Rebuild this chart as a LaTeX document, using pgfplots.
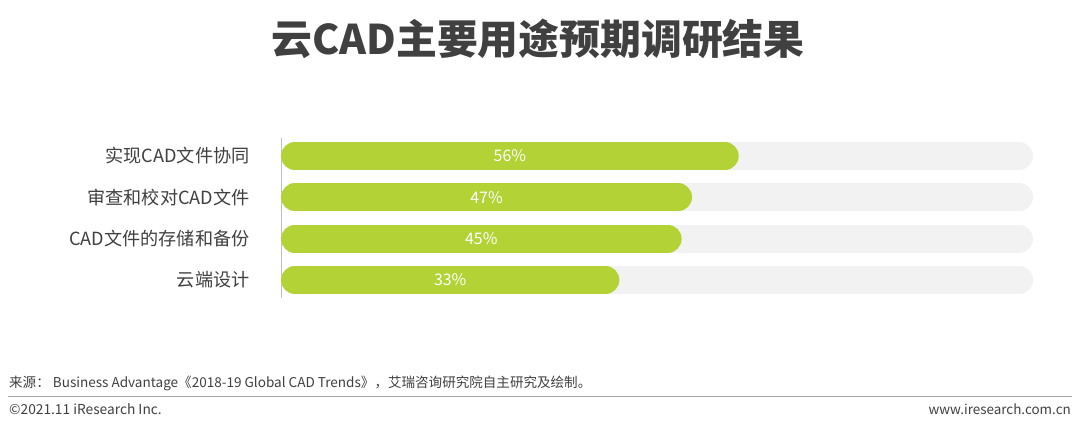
\documentclass[border=0pt]{standalone}
\usepackage{fontspec}
\setmainfont{Noto Sans CJK SC}
\usepackage{pgfplots}
\pgfplotsset{compat=1.18}
\definecolor{barGreen}{HTML}{B2D235}
\definecolor{trackGray}{HTML}{F2F2F2}
\definecolor{txtGray}{HTML}{404040}
\definecolor{axisGray}{HTML}{BFBFBF}
\definecolor{ruleGray}{HTML}{A6A6A6}
\begin{document}
\begin{tikzpicture}[x=1bp,y=1bp]
\fill[white] (0,0) rectangle (1080,430);
\node[font=\bfseries\fontsize{41}{46}\selectfont, text=txtGray] at (538,391) {云CAD主要用途预期调研结果};
\begin{axis}[
    at={(281bp,132bp)}, anchor=south west,
    scale only axis, width=752bp, height=160bp,
    xmin=-29.5, xmax=115.4, ymin=0.564, ymax=4.436,
    axis x line=none, axis y line*=left,
    axis line style={draw=axisGray, line width=0.8bp, -},
    ytick={1,2,3,4},
    yticklabels={云端设计,CAD文件的存储和备份,审查和校对CAD文件,实现CAD文件协同},
    major tick length=0pt,
    yticklabel style={font=\fontsize{18.2}{21}\selectfont, text=txtGray, xshift=-28bp},
    clip=false,
    every axis plot/.append style={line width=28bp, line cap=round, mark=none},
]
% grey tracks
\addplot[trackGray] coordinates {(-26.8,4) (112.7,4)};
\addplot[trackGray] coordinates {(-26.8,3) (112.7,3)};
\addplot[trackGray] coordinates {(-26.8,2) (112.7,2)};
\addplot[trackGray] coordinates {(-26.8,1) (112.7,1)};
% values
\addplot[barGreen] coordinates {(-26.8,4) (56,4)} node[pos=0.5, text=white, font=\fontsize{16}{18}\selectfont] {56\%};
\addplot[barGreen] coordinates {(-26.8,3) (47,3)} node[pos=0.5, text=white, font=\fontsize{16}{18}\selectfont] {47\%};
\addplot[barGreen] coordinates {(-26.8,2) (45,2)} node[pos=0.5, text=white, font=\fontsize{16}{18}\selectfont] {45\%};
\addplot[barGreen] coordinates {(-26.8,1) (33,1)} node[pos=0.5, text=white, font=\fontsize{16}{18}\selectfont] {33\%};
\end{axis}
\node[anchor=west, inner sep=0pt, text=txtGray, font=\fontsize{13.6}{15}\selectfont] at (9,47) {来源： Business Advantage《2018-19 Global CAD Trends》，艾瑞咨询研究院自主研究及绘制。};
\draw[ruleGray, line width=1bp] (8,34) -- (1072,34);
\node[anchor=west, inner sep=0pt, text=txtGray, font=\fontsize{13.8}{15}\selectfont] at (9,21) {©2021.11 iResearch Inc.};
\node[anchor=east, inner sep=0pt, text=txtGray, font=\fontsize{13.5}{15}\selectfont] at (1071,21) {www.iresearch.com.cn};
\end{tikzpicture}
\end{document}
